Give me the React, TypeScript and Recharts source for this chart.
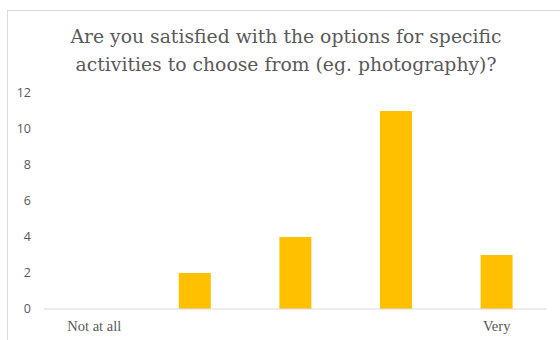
import { BarChart, Bar, XAxis, YAxis } from 'recharts';

const categories = ['Not at all', '2', '3', '4', 'Very'];
const responses = [0, 2, 4, 11, 3];
const yTicks = [0, 2, 4, 6, 8, 10, 12];
const shownLabels = ['Not at all', 'Very'];

const data = categories.map((name, i) => ({ name, value: responses[i] }));

export default function App() {
  return (
    <div style={{ position: 'absolute', left: 0, top: 0, width: 560, height: 340, background: '#fff' }}>
      {/* chart frame, cropped on the right and bottom */}
      <div
        style={{
          position: 'absolute',
          left: 7,
          top: 10,
          width: 560,
          height: 340,
          borderLeft: '1px solid #d9d9d9',
          borderTop: '1px solid #d9d9d9',
        }}
      />
      <div
        style={{
          position: 'absolute',
          left: 0,
          top: 23,
          width: 572,
          textAlign: 'center',
          fontFamily: "'DejaVu Serif', serif",
          fontSize: 18.8,
          lineHeight: '28px',
          color: '#595959',
        }}
      >
        Are you satisfied with the options for specific
        <br />
        activities to choose from (eg. photography)?
      </div>
      <div style={{ position: 'absolute', left: 0, top: 0 }}>
        <BarChart
          width={560}
          height={340}
          data={data}
          margin={{ top: 93, right: 13, bottom: 0, left: 0 }}
          barCategoryGap="34%"
        >
          <YAxis
            width={44}
            domain={[0, 12]}
            ticks={yTicks}
            axisLine={false}
            tickLine={false}
            tickSize={0}
            tickMargin={13}
            tick={{ fill: '#595959', fontSize: 12.5, fontFamily: "'Open Sans', sans-serif" }}
          />
          <XAxis
            dataKey="name"
            height={31}
            axisLine={{ stroke: '#d9d9d9' }}
            tickLine={false}
            tickSize={0}
            tickMargin={12}
            interval={0}
            tickFormatter={(v: string) => (shownLabels.includes(v) ? v : '')}
            tick={{ fill: '#595959', fontSize: 14.5, fontFamily: "'Liberation Serif', serif" }}
          />
          <Bar dataKey="value" fill="#ffc000" isAnimationActive={false} />
        </BarChart>
      </div>
    </div>
  );
}
